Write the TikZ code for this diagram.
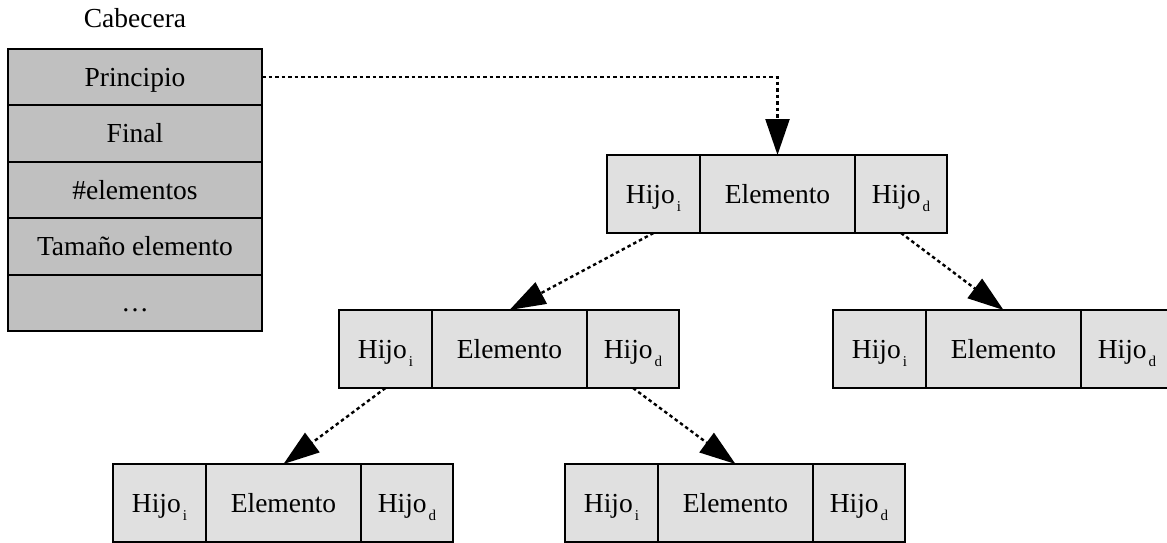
\documentclass[tikz,border=0pt]{standalone}
\usepackage{fontspec}
\setmainfont{Liberation Serif}
\usetikzlibrary{arrows.meta,calc}
\definecolor{hdrgray}{HTML}{C0C0C0}
\definecolor{cellgray}{HTML}{E0E0E0}
\newcommand\bigfont{\fontsize{27.5pt}{32pt}\selectfont}
\newcommand\hijo[1]{Hijo\kern2pt\raisebox{-8pt}{\fontsize{15pt}{15pt}\selectfont #1}}
\tikzset{
  hdrrow/.style={draw, line width=2pt, fill=hdrgray, minimum width=254pt, minimum height=56.4pt,
    inner sep=0pt, outer sep=0pt, anchor=north west, font=\bigfont, text height=19pt, text depth=1pt},
  cell/.style={draw, line width=2pt, fill=cellgray, minimum height=78pt,
    inner sep=0pt, outer sep=0pt, anchor=north west, font=\bigfont, text height=19pt, text depth=1pt},
  arr/.style={dash pattern=on 3.5pt off 3pt, line width=2.4pt,
    -{Triangle[length=36pt,width=24pt]}},
  lbl/.style={font=\bigfont, inner sep=0pt}
}
\newcommand\treenode[3]{%
  \node[cell, minimum width=93pt] (#1-l) at (#2pt,-#3pt) {\hijo{i}};
  \node[cell, minimum width=155pt] (#1-m) at (#1-l.north east) {Elemento};
  \node[cell, minimum width=92pt] (#1-r) at (#1-m.north east) {\hijo{d}};
}
\begin{document}
\begin{tikzpicture}[x=1pt,y=1pt]
  \useasboundingbox (0,0) rectangle (1167,-543);
  % header
  \node[lbl, anchor=base] (cab) at (135,-28) {Cabecera};
  \node[hdrrow] (p) at (8,-49) {Principio};
  \node[hdrrow] (f) at (p.south west) {Final};
  \node[hdrrow] (n) at (f.south west) {\#elementos};
  \node[hdrrow] (te) at (n.south west) {Tamaño elemento};
  \node[hdrrow] (dots) at (te.south west) {\ldots};
  % tree nodes
  \treenode{t}{607}{155}
  \treenode{ml}{339}{310}
  \treenode{mr}{833}{310}
  \treenode{bl}{113}{464}
  \treenode{br}{565}{464}
  % connectors
  \draw[arr] (p.east) -| (t-m.north);
  \draw[arr] (t-l.south) -- (ml-m.north);
  \draw[arr] (t-r.south) -- (mr-m.north);
  \draw[arr] (ml-l.south) -- (bl-m.north);
  \draw[arr] (ml-r.south) -- (br-m.north);
\end{tikzpicture}
\end{document}
